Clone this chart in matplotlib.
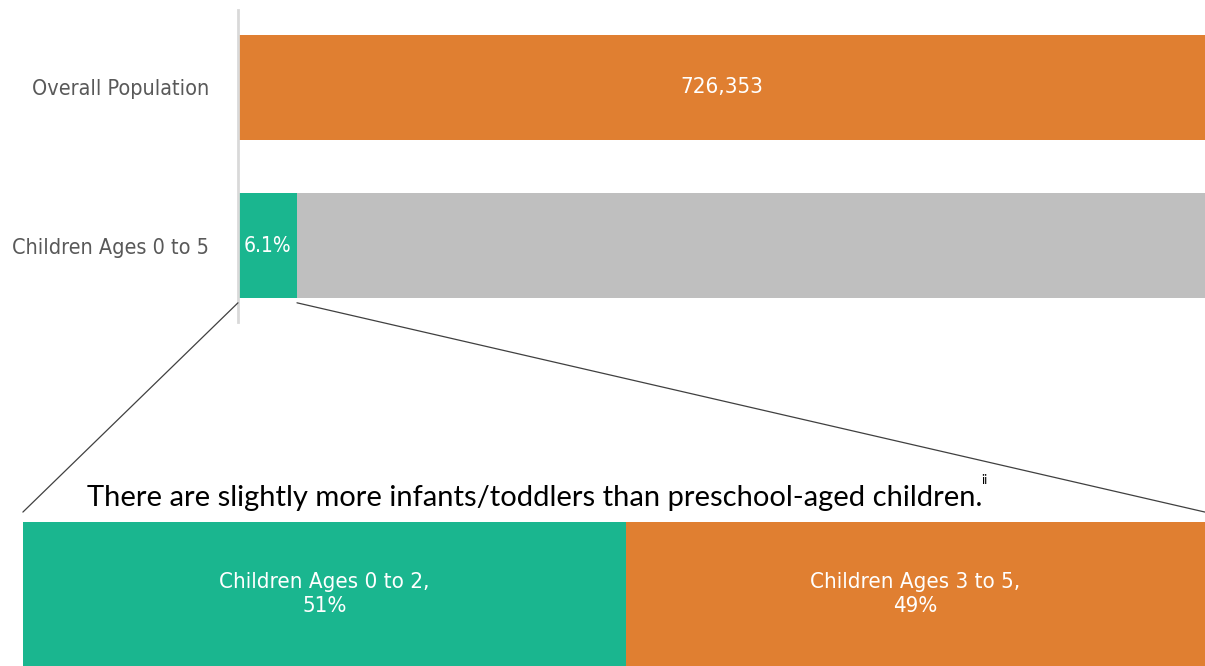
import matplotlib.pyplot as plt
from matplotlib.patches import ConnectionPatch

# population bars (percent of the overall population)
categories = ["Overall Population", "Children Ages 0 to 5"]
overall_total = 726353
child_share = 6.1

# split of the 0-5 group
split_labels = ["Children Ages 0 to 2,", "Children Ages 3 to 5,"]
split_values = [51, 49]

title = "There are slightly more infants/toddlers than preschool-aged children."
footnote = "ii"

ORANGE = "#E07F31"
GREEN = "#1AB68F"
GRAY = "#BFBFBF"
LABEL = "#595959"
COND = dict(family="DejaVu Sans", fontstretch="condensed")

fig = plt.figure(figsize=(12.05, 6.66), dpi=100)

# top chart: overall vs children share
ax = fig.add_axes([0.1975, 0.5165, 0.8025, 0.4685])
bh = 0.665
ax.barh(0, 100, height=bh, color=ORANGE)
ax.barh(1, child_share, height=bh, color=GREEN)
ax.barh(1, 100 - child_share, left=child_share, height=bh, color=GRAY)
ax.text(50, 0, f"{overall_total:,}", color="white", ha="center", va="center", fontsize=16, **COND)
ax.text(child_share / 2, 1, f"{child_share}%", color="white", ha="center", va="center", fontsize=15, **COND)

ax.set_xlim(0, 100)
ax.set_ylim(1.484, -0.49)
ax.set_yticks([0, 1])
ax.set_yticklabels(categories, color=LABEL, fontsize=15.5, **COND)
ax.tick_params(axis="y", length=0, pad=21)
ax.set_xticks([])
for s in ["top", "right", "bottom"]:
    ax.spines[s].set_visible(False)
ax.spines["left"].set_color("#D9D9D9")
ax.spines["left"].set_linewidth(2)

# bottom chart: the 0-5 split
bx = fig.add_axes([0.019, 0.0, 0.981, 0.216])
left = 0
for lab, v, c in zip(split_labels, split_values, [GREEN, ORANGE]):
    bx.barh(0, v, left=left, height=1, color=c)
    bx.text(left + v / 2, 0, f"{lab}\n{v}%", color="white", ha="center", va="center",
            fontsize=16, linespacing=1.3, **COND)
    left += v
bx.set_xlim(0, sum(split_values))
bx.set_ylim(-0.5, 0.5)
bx.axis("off")

# zoom lines from the children segment down to the split bar
y_bot = 1 + bh / 2 + 0.03
for xa, xb in [(0, 0), (child_share, sum(split_values))]:
    con = ConnectionPatch(xyA=(xa, y_bot), coordsA=ax.transData,
                          xyB=(xb, 0.57), coordsB=bx.transData,
                          color="#404040", linewidth=0.9)
    fig.add_artist(con)

t = fig.text(0.072, 0.240, title, fontsize=21, family="Lato", color="black", va="baseline")
fig.canvas.draw()
ext = t.get_window_extent()
fig.text(ext.x1 / fig.bbox.width - 0.001, 0.240 + 0.033, footnote, fontsize=9,
         family="Lato", va="baseline")

fig.savefig("out.png", dpi=100)
